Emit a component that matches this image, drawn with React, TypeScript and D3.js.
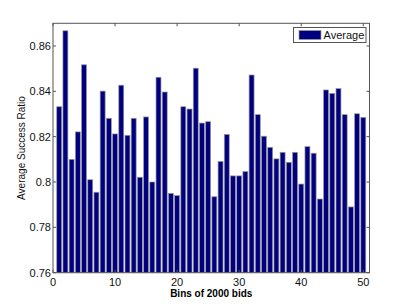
import React, { useEffect, useRef } from 'react';
import * as d3 from 'd3';

// Average success ratio per bin (bins 1..50)
const bins = d3.range(1, 51);
const averages = [
  0.8332, 0.8667, 0.81, 0.8221, 0.8517, 0.801, 0.7955, 0.8401, 0.8281, 0.8212,
  0.8427, 0.8206, 0.8281, 0.8021, 0.8287, 0.8, 0.8462, 0.8397, 0.795, 0.794,
  0.8332, 0.8322, 0.8502, 0.826, 0.8266, 0.7935, 0.8091, 0.821, 0.8027, 0.8027,
  0.8046, 0.8472, 0.8297, 0.8202, 0.8153, 0.8102, 0.8131, 0.8087, 0.8131, 0.7991,
  0.8156, 0.8127, 0.7925, 0.8406, 0.8391, 0.8412, 0.8297, 0.789, 0.8301, 0.8285,
];
const xTicks = [0, 10, 20, 30, 40, 50];
const yTicks = [0.76, 0.78, 0.8, 0.82, 0.84, 0.86];

const App = () => {
  const chartRef = useRef<SVGSVGElement>(null);

  useEffect(() => {
    const svg = d3.select(chartRef.current);
    svg.selectAll('*').remove();

    const width = 409;
    const height = 307;
    const margin = { top: 23.3, right: 39.5, bottom: 34.3, left: 53 };
    const font = 'Liberation Sans, Arial, sans-serif';
    const axisColor = '#555';

    const x = d3
      .scaleLinear()
      .domain([0, 51])
      .range([margin.left, width - margin.right]);

    const y = d3
      .scaleLinear()
      .domain([0.76, 0.87])
      .range([height - margin.bottom, margin.top]);

    const bw = (x(1) - x(0)) * 0.8;

    // Bars
    svg
      .append('g')
      .selectAll('rect')
      .data(bins)
      .join('rect')
      .attr('x', (d) => x(d) - bw / 2)
      .attr('y', (d, i) => y(averages[i]))
      .attr('width', bw)
      .attr('height', (d, i) => y(0.76) - y(averages[i]))
      .attr('fill', '#000080')
      .attr('stroke', '#9a9a9a')
      .attr('stroke-width', 0.7);

    const tickLen = 3;
    const g = svg.append('g').attr('stroke', axisColor).attr('stroke-width', 1);

    // Box
    g.append('rect')
      .attr('x', x(0))
      .attr('y', y(0.87))
      .attr('width', x(51) - x(0))
      .attr('height', y(0.76) - y(0.87))
      .attr('fill', 'none');

    // Inward ticks, both sides
    xTicks.forEach((t) => {
      g.append('line')
        .attr('x1', x(t)).attr('x2', x(t))
        .attr('y1', y(0.76)).attr('y2', y(0.76) - tickLen);
      g.append('line')
        .attr('x1', x(t)).attr('x2', x(t))
        .attr('y1', y(0.87)).attr('y2', y(0.87) + tickLen);
    });
    yTicks.forEach((t) => {
      g.append('line')
        .attr('x1', x(0)).attr('x2', x(0) + tickLen)
        .attr('y1', y(t)).attr('y2', y(t));
      g.append('line')
        .attr('x1', x(51)).attr('x2', x(51) - tickLen)
        .attr('y1', y(t)).attr('y2', y(t));
    });

    // Tick labels
    svg
      .append('g')
      .selectAll('text')
      .data(xTicks)
      .join('text')
      .attr('x', (d) => x(d))
      .attr('y', y(0.76) + 13)
      .attr('text-anchor', 'middle')
      .attr('font-family', font)
      .attr('font-size', 11)
      .attr('fill', '#111')
      .text((d) => d);

    svg
      .append('g')
      .selectAll('text')
      .data(yTicks)
      .join('text')
      .attr('x', x(0) - 2)
      .attr('y', (d) => y(d) + 4)
      .attr('text-anchor', 'end')
      .attr('font-family', font)
      .attr('font-size', 11)
      .attr('fill', '#111')
      .text((d) => d3.format('')(+d.toFixed(2)));

    // Axis titles
    svg
      .append('text')
      .attr('x', (x(0) + x(51)) / 2)
      .attr('y', height - 10)
      .attr('text-anchor', 'middle')
      .attr('font-family', font)
      .attr('font-size', 10)
      .attr('font-weight', 'bold')
      .attr('fill', '#000')
      .text('Bins of 2000 bids');

    svg
      .append('text')
      .attr('transform', `translate(25,${(y(0.76) + y(0.87)) / 2}) rotate(-90)`)
      .attr('text-anchor', 'middle')
      .attr('font-family', font)
      .attr('font-size', 10)
      .attr('fill', '#111')
      .text('Average Success Ratio');

    // Legend
    const legend = svg.append('g').attr('transform', 'translate(293.5,27.5)');
    legend
      .append('rect')
      .attr('width', 72.5)
      .attr('height', 15)
      .attr('fill', '#fff')
      .attr('stroke', axisColor);
    legend
      .append('rect')
      .attr('x', 5.5)
      .attr('y', 3)
      .attr('width', 22)
      .attr('height', 9)
      .attr('fill', '#000080')
      .attr('stroke', '#9a9a9a')
      .attr('stroke-width', 0.7);
    legend
      .append('text')
      .attr('x', 30)
      .attr('y', 11.5)
      .attr('font-family', font)
      .attr('font-size', 11)
      .attr('fill', '#111')
      .text('Average');
  }, []);

  return (
    <svg
      ref={chartRef}
      width={409}
      height={307}
      style={{ position: 'absolute', left: 0, top: 0, background: '#fff' }}
    />
  );
};

export default App;
